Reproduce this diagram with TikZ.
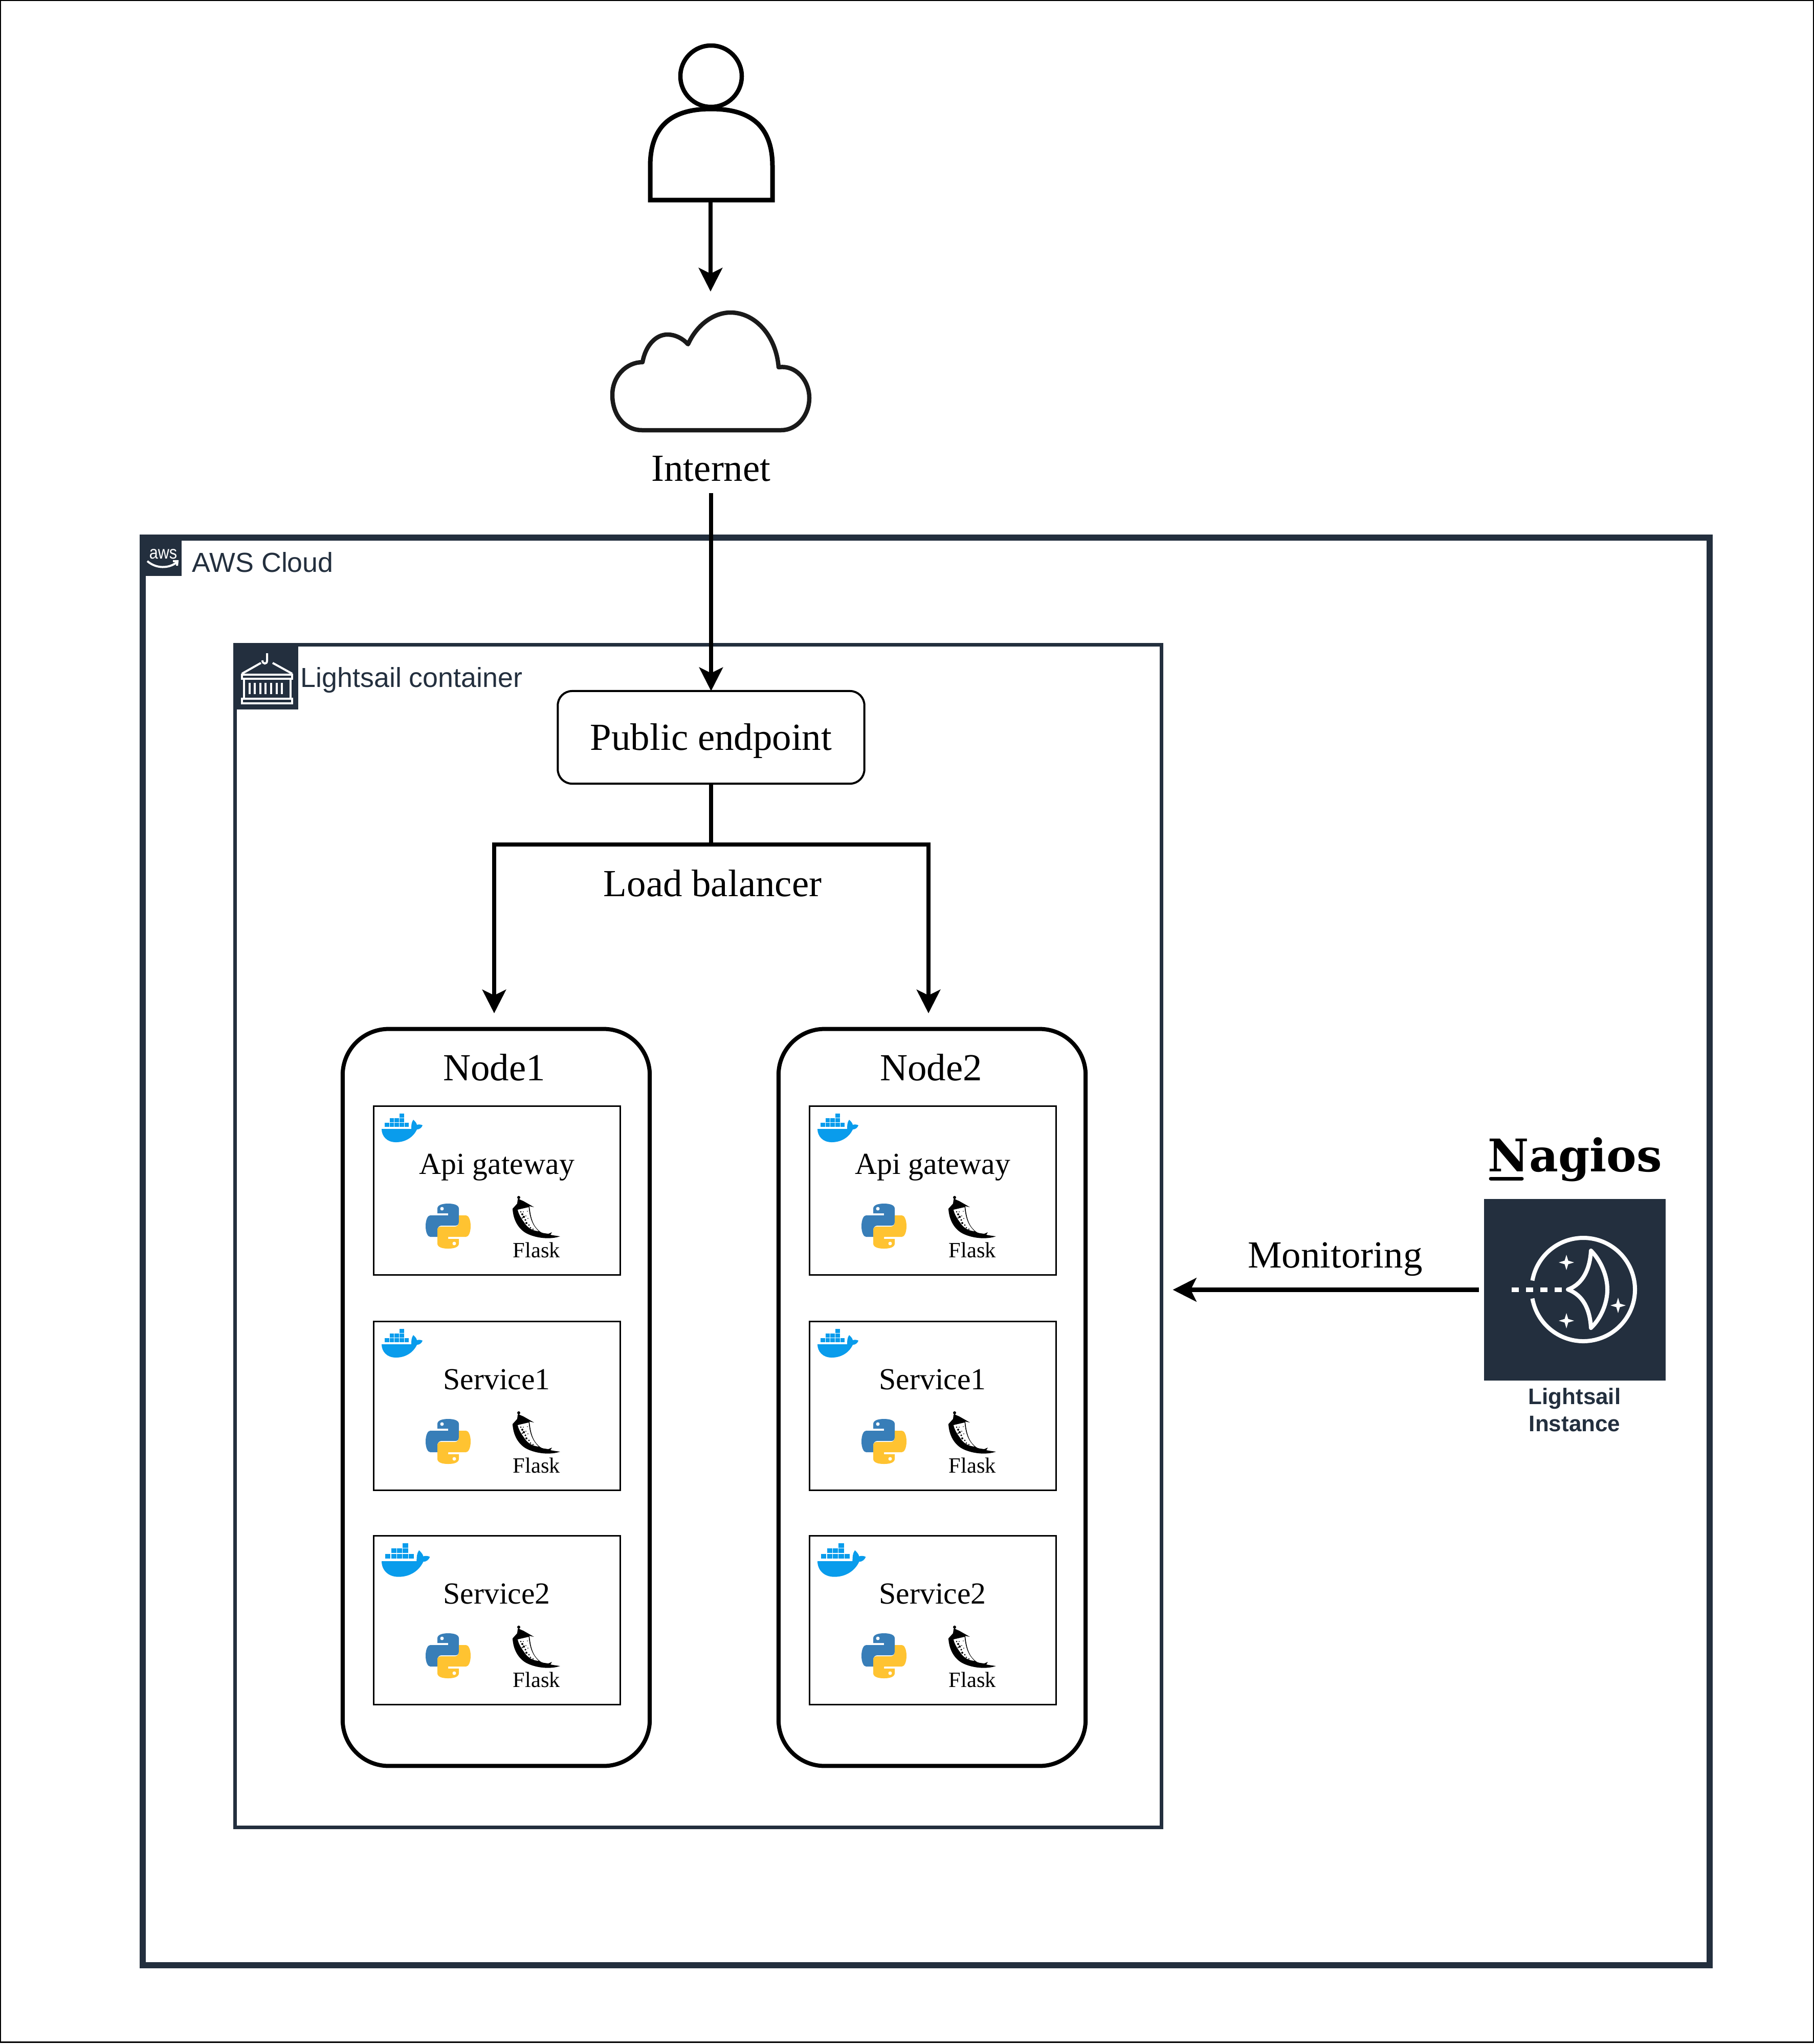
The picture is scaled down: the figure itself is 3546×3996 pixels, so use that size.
\documentclass[tikz,border=0pt]{standalone}
\usepackage{fontspec}
\setmainfont{Liberation Serif}
\setsansfont{Liberation Sans}
\newfontfamily\nagiosfont{DejaVu Serif}
\usetikzlibrary{arrows.meta,positioning}
\definecolor{awsnavy}{HTML}{232F3E}
\definecolor{dockerblue}{HTML}{099CEC}
\definecolor{pythonblue}{HTML}{387EB8}
\definecolor{pythonyellow}{HTML}{FFC331}
\definecolor{cloudline}{HTML}{1A1A1A}
\tikzset{
  box/.style={draw=black,fill=white,inner sep=0pt,outer sep=0pt},
  pageframe/.style={box,line width=0.03cm,minimum width=35.43cm,minimum height=39.9cm},
  awsframe/.style={box,draw=awsnavy,line width=0.12cm,minimum width=30.61cm,minimum height=27.9cm},
  containerframe/.style={box,draw=awsnavy,line width=0.065cm,minimum width=18.1cm,minimum height=23.11cm},
  endpointbox/.style={box,line width=0.04cm,rounded corners=0.28cm,minimum width=5.99cm,minimum height=1.81cm,text height=0.654cm,text depth=0.164cm,font=\titlefont},
  nodebox/.style={box,line width=0.08cm,rounded corners=0.9cm,minimum width=6cm,minimum height=14.4cm},
  servicecard/.style={box,line width=0.03cm,anchor=north west,minimum width=4.82cm,minimum height=3.3cm},
  iconspot/.style={inner sep=0pt,outer sep=0pt},
  iconsquare/.style={fill=awsnavy,inner sep=0pt,outer sep=0pt},
  awstext/.style={inner sep=0pt,text=awsnavy,font=\awsfont,anchor=base west},
  flow/.style={-{Stealth[length=4.6mm,width=4.6mm,inset=1.1mm]},line width=0.085cm,draw=black},
  iconline/.style={draw=white,line width=0.08cm,line join=round},
  thinicon/.style={draw=white,line width=0.04cm},
  pics/dockerlogo/.style={code={
    \fill[dockerblue] (0,0) -- (58,0) .. controls (58,-6) and (58,-13) .. (62,-18)
      .. controls (66,-14) and (68,-12) .. (69,-8) .. controls (72,-9) and (77,-9) .. (80,-7)
      .. controls (78,-2) and (74,1) .. (69,1) .. controls (62,16) and (47,26) .. (28,26)
      .. controls (10,26) and (0,14) .. (0,0) -- cycle;
    \foreach \cellx/\celly in {0/0,1/0,2/0,3/0,4/0,1/1,2/1,3/1,3/2}
      \fill[dockerblue] ({6+9.7*\cellx},{-4.3-9*\celly}) rectangle ++(8.6,-7.6);
  }},
  pics/pythonlogo/.style={code={
    \foreach \turn/\snakecolor in {0/pythonblue,180/pythonyellow}{
      \begin{scope}[rotate=\turn]
        \fill[\snakecolor] (-21,-34) .. controls (-21,-41) and (-12,-44) .. (0,-44)
          .. controls (12,-44) and (21,-41) .. (21,-34) -- (21,-8)
          .. controls (21,-3) and (18,-1) .. (14,-1) -- (-13,-1)
          .. controls (-18,-1) and (-21,3) .. (-21,8) -- (-21,21) -- (-35,21)
          .. controls (-40,21) and (-44,12) .. (-44,0) .. controls (-44,-12) and (-40,-21) .. (-35,-21)
          -- (0,-21) -- (0,-25) -- (-21,-25) -- cycle;
        \fill[white] (-12,-34) circle[radius=3.5];
      \end{scope}
    }
  }},
  pics/flasklogo/.style={code={
    \fill[black] (-47,-17) .. controls (-46,5) and (-35,25) .. (-16,33)
      .. controls (0,40) and (25,44) .. (46,37) .. controls (38,36) and (32,35) .. (27,34)
      -- (30,29) -- (23,32) .. controls (16,31) and (11,31) .. (7,28)
      .. controls (-3,20) and (-11,10) .. (-14,-22) -- (-5,-20) -- (-26,-32) -- (-33,-35)
      -- (-35,-37) -- (-37,-35) -- (-38,-27) -- cycle;
    \fill[black] (-35,-39) circle[radius=3];
    \fill[white] (-37,-15) -- (-15.5,-20) .. controls (-13.5,2) and (-8,16) .. (4,27)
      .. controls (-8,26) and (-18,20) .. (-24,10) .. controls (-30,2) and (-35,-6) .. (-37,-15) -- cycle;
    \foreach \spotx/\spoty/\spotr in {-31/-11/1.5,-28/-6/2,-25/-1/2.2,-28/1/1.4,-22/5/1.8,-20/11/2,-15/15/1.6,-12/20/1.5,-7/23/1.4,-21/-3/1,-18/-12/0.9,-17/2/1,-26/-11/1}
      \fill[black] (\spotx,\spoty) circle[radius=\spotr];
  }},
  pics/servicebox/.style n args={3}{code={
    \node[servicecard] (-card) at (0,0) {};
    \pic[scale=#2] at (16,#3) {dockerlogo};
    \node[inner sep=0pt,anchor=base,font=\cardfont] (-label) at (241,133) {#1};
    \pic at (146,235) {pythonlogo};
    \pic at (319,218) {flasklogo};
    \node[inner sep=0pt,anchor=base,font=\flaskfont] (-flask) at (319,296) {Flask};
  }},
  pics/sparkle/.style={code={
    \fill[white] (0,-15) -- (3.5,-3.5) -- (15,0) -- (3.5,3.5) -- (0,15) -- (-3.5,3.5) -- (-15,0) -- (-3.5,-3.5) -- cycle;
  }}
}
\newcommand{\titlefont}{\fontsize{21.3}{25}\selectfont}
\newcommand{\cardfont}{\fontsize{17}{20}\selectfont}
\newcommand{\flaskfont}{\fontsize{12.1}{14}\selectfont}
\newcommand{\awsfont}{\sffamily\fontsize{15.3}{18}\selectfont}
\begin{document}
\begin{tikzpicture}[x=0.01cm,y=-0.01cm]
  \useasboundingbox (0,0) rectangle (3546,3996);
  \node[pageframe] (page) at (1773,1996.5) {};

  % user and internet
  \node[iconspot,minimum width=2.4cm,minimum height=3.1cm] (user) at (1389,236) {};
  \draw[line width=0.09cm,fill=white] (1271,391) -- (1271,325) .. controls (1271,240) and (1320,213) .. (1390,213)
    .. controls (1460,213) and (1510,240) .. (1510,325) -- (1510,391) -- cycle;
  \draw[line width=0.085cm] (1390,149) circle[radius=60];
  \node[iconspot,minimum width=3.94cm,minimum height=2.4cm] (cloud) at (1389,726) {};
  \draw[cloudline,line width=0.085cm,line join=round] (1255,841) .. controls (1220,841) and (1197,810) .. (1197,772)
    .. controls (1197,735) and (1225,708) .. (1256,708) .. controls (1262,675) and (1282,654) .. (1305,654)
    .. controls (1320,654) and (1335,662) .. (1345,673) .. controls (1362,635) and (1395,611) .. (1428,611)
    .. controls (1475,611) and (1517,655) .. (1522,718) .. controls (1555,713) and (1582,743) .. (1582,778)
    .. controls (1582,812) and (1558,841) .. (1527,841) -- cycle;
  \node[inner sep=0.23cm,anchor=base,font=\titlefont] (internet) at (1390,940) {Internet};

  % aws cloud
  \node[awsframe] (aws) at (1810.5,2446.3) {};
  \node[iconsquare,minimum width=0.81cm,minimum height=0.8cm] (awsicon) at (314.5,1086) {};
  \node[inner sep=0pt,text=white,xscale=0.87,anchor=base,font=\sffamily\fontsize{10}{12}\selectfont] (awsword) at (319,1092) {aws};
  \draw[thinicon] (288,1097) .. controls (305,1112) and (330,1112) .. (346,1099);
  \draw[thinicon] (338,1097) -- (347,1097) -- (346,1106);
  \node[awstext] (awslabel) at (375,1118) {AWS Cloud};

  % lightsail container
  \node[containerframe] (lightsail) at (1365,2416.5) {};
  \node[iconsquare,minimum width=1.26cm,minimum height=1.26cm] (crateicon) at (520,1324) {};
  \draw[thinicon] (522,1277) -- (522,1292) .. controls (522,1299) and (513,1299) .. (513,1291);
  \draw[thinicon] (510,1296) -- (473,1317) (533,1296) -- (571,1317);
  \draw[thinicon] (473,1319) rectangle (571,1327);
  \draw[thinicon] (477,1327) rectangle (568,1366);
  \draw[thinicon] (473,1366) rectangle (571,1375);
  \foreach \slatx in {488,498,509,519,530,541,551}
    \draw[thinicon] (\slatx,1335) -- (\slatx,1357);
  \node[awstext] (lightsaillabel) at (587,1343) {Lightsail container};

  \node[endpointbox] (endpoint) at (1390,1441.5) {Public endpoint};
  \node[nodebox] (nodeone) at (970,2732) {};
  \node[nodebox] (nodetwo) at (1822,2732) {};
  \coordinate (lbfork) at (1390,1651);
  \coordinate (lbleft) at (966,2012);
  \coordinate (lbright) at (1815,2012);
  \node[inner sep=0pt,anchor=base,font=\titlefont] (lblabel) at (1393,1752) {Load balancer};
  \node[inner sep=0pt,anchor=base,font=\titlefont] (nodeonelabel) at (966,2112) {Node1};
  \node[inner sep=0pt,anchor=base,font=\titlefont] (nodetwolabel) at (1820,2112) {Node2};

  \pic (apione) at (730,2162) {servicebox={Api gateway}{1}{45}};
  \pic (svconeone) at (730,2583) {servicebox={Service1}{1}{45}};
  \pic (svctwoone) at (730,3002) {servicebox={Service2}{1.18}{50}};
  \pic (apitwo) at (1582,2162) {servicebox={Api gateway}{1}{45}};
  \pic (svconetwo) at (1582,2583) {servicebox={Service1}{1}{45}};
  \pic (svctwotwo) at (1582,3002) {servicebox={Service2}{1.18}{50}};

  % nagios and the instance
  \node[inner sep=0pt,anchor=base west,font=\nagiosfont\bfseries\fontsize{25}{30}\selectfont] (nagios) at (2908,2290) {Nagios};
  \draw[line width=0.07cm,line cap=round] (2914,2304) -- (2975,2304);
  \node[iconsquare,minimum width=3.55cm,minimum height=3.55cm] (instance) at (3078.5,2521.5) {};
  \draw[iconline] (3095,2521) ++(170:101) arc[start angle=170,end angle=-170,radius=101];
  \draw[iconline,line width=0.09cm,dash pattern=on 0.14cm off 0.14cm] (2955,2521) -- (3053,2521);
  \draw[iconline] (3065,2521) .. controls (3095,2510) and (3108,2480) .. (3110,2445)
    .. controls (3130,2465) and (3142,2495) .. (3142,2521) .. controls (3142,2547) and (3130,2577) .. (3110,2596)
    .. controls (3108,2560) and (3095,2532) .. cycle;
  \pic at (3062,2468) {sparkle};
  \pic at (3163,2552) {sparkle};
  \pic at (3062,2582) {sparkle};
  \node[inner sep=0pt,align=center,text=awsnavy,font=\sffamily\bfseries\fontsize{12.5}{15}\selectfont] (instancelabel) at (3078,2756) {Lightsail\\Instance};
  \node[inner sep=0pt,anchor=base,font=\titlefont] (monitorlabel) at (2610,2478) {Monitoring};

  % connectors
  \draw[flow,shorten >=0.36cm] (user.south) -- (cloud.north);
  \draw[flow] (internet.south) -- (endpoint.north);
  \draw[flow,shorten >=0.31cm] (endpoint.south) -- (lbfork) -| (lbleft);
  \draw[flow,shorten >=0.31cm] (lbfork) -| (lbright);
  \draw[flow,shorten <=0.1cm,shorten >=0.22cm] (instance.west) -- (instance.west -| lightsail.east);
\end{tikzpicture}
\end{document}
